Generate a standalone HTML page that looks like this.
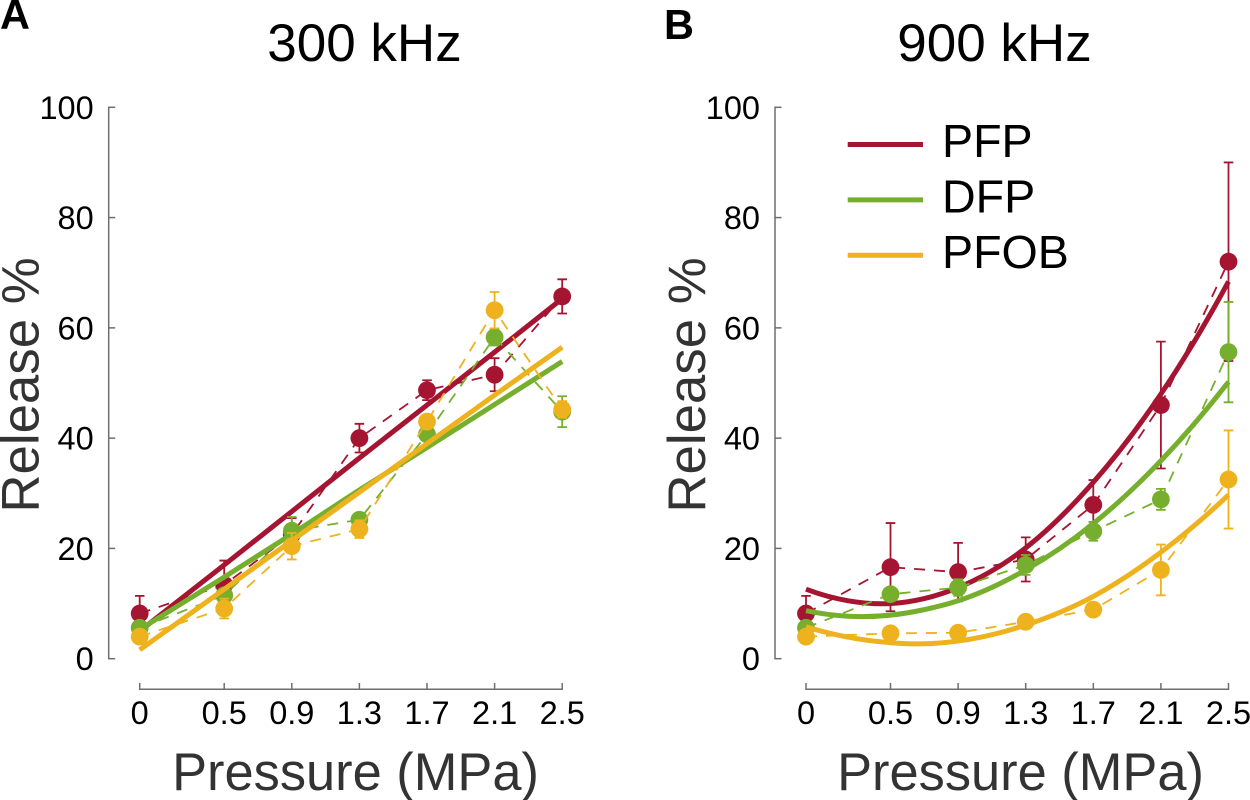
<!DOCTYPE html>
<html lang="en">
<head>
<meta charset="utf-8">
<title>Release vs Pressure</title>
<style>
html,body{margin:0;padding:0;background:#fff;}
svg{display:block;font-family:"Liberation Sans",Arial,sans-serif;}
</style>
</head>
<body>
<svg id="chart" xmlns="http://www.w3.org/2000/svg" width="1250" height="800" viewBox="0 0 1250 800"></svg>
<script>
var pressures = [0, 0.5, 0.9, 1.3, 1.7, 2.1, 2.5];
var pressureLabels = ['0', '0.5', '0.9', '1.3', '1.7', '2.1', '2.5'];
var yTicks = [0, 20, 40, 60, 80, 100];
var seriesNames = ['PFP', 'DFP', 'PFOB'];

var pfpA = [8.2, 13.4, 22.5, 40, 48.7, 51.5, 65.7];
var dfpA = [5.6, 11.5, 23.2, 25.2, 40.7, 58.3, 44.8];
var pfobA = [4, 9.1, 20.4, 23.5, 43, 63.2, 45.2];
var pfpErrA = [3.2, 4.4, 3, 2.6, 1.8, 3, 3.1];
var dfpErrA = [0.8, 1, 2.5, 1, 1, 1.5, 2.8];
var pfobErrA = [1, 1.8, 2.4, 1.6, 1, 3.3, 1.5];
var fitPressureA = [0, 0.5, 0.9, 1.3, 1.7, 2.1, 2.5];
var pfpFitA = [5, 17, 26.7, 36.4, 46, 55.6, 65.3];
var dfpFitA = [5.3, 14.8, 22.6, 30.6, 38.3, 46.1, 53.9];
var pfobFitA = [1.6, 12.6, 21.4, 30.2, 39, 47.8, 56.5];

var pfpB = [8.2, 16.6, 15.7, 18, 27.9, 46, 72];
var dfpB = [5.6, 11.7, 12.9, 17, 23.1, 28.9, 55.6];
var pfobB = [4, 4.6, 4.7, 6.7, 8.9, 16.1, 32.5];
var pfpErrB = [3.2, 8, 5.3, 4, 4.5, 11.5, 18];
var dfpErrB = [0.8, 1, 1.5, 1.8, 1.7, 1.9, 9.1];
var pfobErrB = [1, 0.8, 0.8, 0.8, 0.8, 4.6, 8.9];
var fitPressureB = [0, 0.25, 0.5, 0.7, 0.9, 1.3, 1.7, 2.1, 2.5];
var pfpFitB = [12.6, 10.5, 10, 10.9, 12.9, 20.1, 32, 48, 68.4];
var dfpFitB = [8.7, 7.7, 7.9, 8.9, 10.5, 16.1, 24.5, 35.9, 50.2];
var pfobFitB = [5.8, 3.9, 2.9, 2.7, 3.2, 6.1, 11.3, 19.3, 29.7];

var NS = 'http://www.w3.org/2000/svg';
var root = document.getElementById('chart');
var COLORS = ['#A51431', '#76AF2E', '#EEB21F'];
var AXIS_COLOR = '#6e6e6e';
var TITLE_COLOR = '#333333';

function make(parent, tag, attrs) {
  var el = document.createElementNS(NS, tag);
  for (var k in attrs) { el.setAttribute(k, attrs[k]); }
  parent.appendChild(el);
  return el;
}
function yScale(v) { return 658.7 - v * 5.514; }

function smoothPath(px, py) {
  var n = px.length, slopes = [], i;
  for (i = 1; i < n - 1; i++) {
    var h0 = px[i] - px[i - 1], h1 = px[i + 1] - px[i];
    var s0 = (py[i] - py[i - 1]) / h0, s1 = (py[i + 1] - py[i]) / h1;
    slopes[i] = (s0 * h1 + s1 * h0) / (h0 + h1);
  }
  slopes[0] = 2 * (py[1] - py[0]) / (px[1] - px[0]) - slopes[1];
  slopes[n - 1] = 2 * (py[n - 1] - py[n - 2]) / (px[n - 1] - px[n - 2]) - slopes[n - 2];
  var d = 'M' + px[0].toFixed(2) + ' ' + py[0].toFixed(2);
  for (i = 0; i < n - 1; i++) {
    var h = px[i + 1] - px[i];
    d += 'C' + (px[i] + h / 3).toFixed(2) + ' ' + (py[i] + slopes[i] * h / 3).toFixed(2) + ' ' +
         (px[i + 1] - h / 3).toFixed(2) + ' ' + (py[i + 1] - slopes[i + 1] * h / 3).toFixed(2) + ' ' +
         px[i + 1].toFixed(2) + ' ' + py[i + 1].toFixed(2);
  }
  return d;
}

function drawPanel(cfg) {
  var xScale = function (p) { return cfg.x0 + p * 169; };
  var panel = make(root, 'g', {});
  
  

  var panelLabel = make(panel, 'text', {x: cfg.labelX, y: cfg.labelY, 'font-size': 41.5, 'font-weight': 'bold', fill: '#000'});
  
  
  panelLabel.textContent = cfg.label;

  var title = make(panel, 'text', {x: cfg.titleX, y: 61, 'font-size': 53, fill: '#000', 'text-anchor': 'middle'});
  
  
  title.textContent = cfg.title;

  var yAxis = make(panel, 'line', {x1: cfg.axisX, x2: cfg.axisX, y1: yScale(100) - 0.7, y2: yScale(0) + 0.7, stroke: AXIS_COLOR, 'stroke-width': 1.5});
  
  

  yTicks.forEach(function (t) {
    var tick = make(panel, 'line', {x1: cfg.axisX, x2: cfg.axisX + 6.5, y1: yScale(t), y2: yScale(t), stroke: AXIS_COLOR, 'stroke-width': 1.5});
    
    
    var label = make(panel, 'text', {x: cfg.axisX - 15, y: yScale(t) + 11.5, 'font-size': 32.5, fill: '#000', 'text-anchor': 'end'});
    
    
    label.textContent = t;
  });

  var xAxis = make(panel, 'line', {x1: xScale(0) - 0.7, x2: xScale(2.5) + 0.7, y1: 689.3, y2: 689.3, stroke: AXIS_COLOR, 'stroke-width': 1.5});
  
  

  pressures.forEach(function (p, i) {
    var tick = make(panel, 'line', {x1: xScale(p), x2: xScale(p), y1: 689.3, y2: 683, stroke: AXIS_COLOR, 'stroke-width': 1.5});
    
    
    var label = make(panel, 'text', {x: xScale(p), y: 724, 'font-size': 32.5, fill: '#000', 'text-anchor': 'middle'});
    
    
    label.textContent = pressureLabels[i];
  });

  var yTitle = make(panel, 'text', {transform: 'translate(' + (cfg.axisX - 70) + ' 385) rotate(-90)', 'font-size': 52.8, fill: TITLE_COLOR, 'text-anchor': 'middle'});
  
  
  yTitle.textContent = 'Release %';

  var xTitle = make(panel, 'text', {x: cfg.xTitleX, y: 790, 'font-size': 52.4, fill: TITLE_COLOR, 'text-anchor': 'middle'});
  
  
  xTitle.textContent = 'Pressure (MPa)';

  cfg.values.forEach(function (vals, s) {
    var color = COLORS[s];
    var group = make(panel, 'g', {});
    
    

    var pts = pressures.map(function (p, i) { return xScale(p).toFixed(2) + ',' + yScale(vals[i]).toFixed(2); }).join(' ');
    var dashed = make(group, 'polyline', {points: pts, fill: 'none', stroke: color, 'stroke-width': 1.8, 'stroke-dasharray': '11 9'});
    
    

    var fx = cfg.fitX.map(xScale);
    var fy = cfg.fits[s].map(yScale);
    var fit = make(group, 'path', {d: smoothPath(fx, fy), fill: 'none', stroke: color, 'stroke-width': 5});
    
    

    pressures.forEach(function (p, i) {
      var x = xScale(p), top = yScale(vals[i] + cfg.errors[s][i]), bot = yScale(vals[i] - cfg.errors[s][i]);
      var err = make(group, 'path', {d: 'M' + x + ' ' + top + 'V' + bot + 'M' + (x - 4.8) + ' ' + top + 'H' + (x + 4.8) + 'M' + (x - 4.8) + ' ' + bot + 'H' + (x + 4.8), fill: 'none', stroke: color, 'stroke-width': 1.8});
      
      
      var dot = make(group, 'circle', {cx: x, cy: yScale(vals[i]), r: 8.9, fill: color});
      
      
    });
  });
}

drawPanel({
  name: 'panel-a', label: 'A', labelX: 0, labelY: 29, title: '300 kHz', titleX: 364.5,
  x0: 139.7, axisX: 108.7, xTitleX: 355.5,
  values: [pfpA, dfpA, pfobA], errors: [pfpErrA, dfpErrA, pfobErrA],
  fitX: fitPressureA, fits: [pfpFitA, dfpFitA, pfobFitA]
});
drawPanel({
  name: 'panel-b', label: 'B', labelX: 664, labelY: 39, title: '900 kHz', titleX: 994.5,
  x0: 806, axisX: 775, xTitleX: 1020.5,
  values: [pfpB, dfpB, pfobB], errors: [pfpErrB, dfpErrB, pfobErrB],
  fitX: fitPressureB, fits: [pfpFitB, dfpFitB, pfobFitB]
});

var legend = make(root, 'g', {});


seriesNames.forEach(function (name, s) {
  var y = 144.5 + s * 55.4;
  var swatch = make(legend, 'line', {x1: 847.7, x2: 923, y1: y, y2: y, stroke: COLORS[s], 'stroke-width': 5});
  
  
  var text = make(legend, 'text', {x: 942, y: y + 12.5, 'font-size': 46.6, fill: '#000'});
  
  
  text.textContent = name;
});
</script>
</body>
</html>
